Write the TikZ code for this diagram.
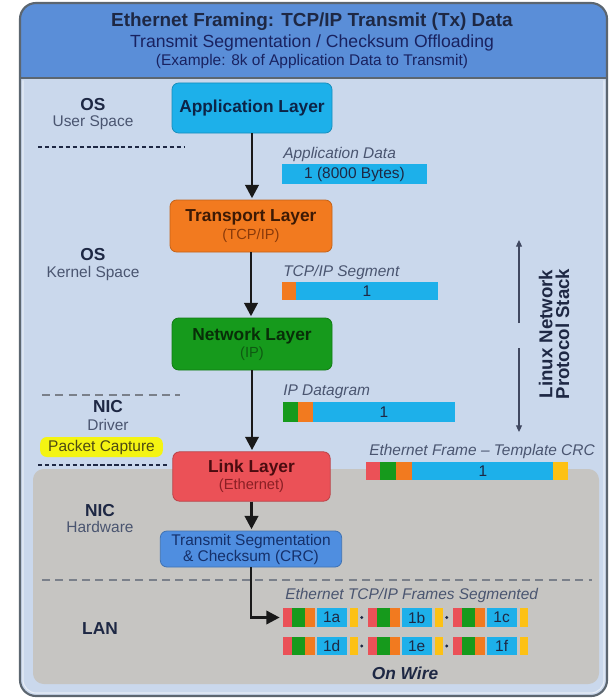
\documentclass[tikz,border=0pt]{standalone}
\usepackage{fontspec}
\setmainfont{Liberation Sans}
\usetikzlibrary{arrows.meta}

\definecolor{hdrblue}{HTML}{5A8ED8}
\definecolor{bodyblue}{HTML}{CAD8EC}
\definecolor{hwgray}{HTML}{C6C5C2}
\definecolor{framegray}{HTML}{5C6670}
\definecolor{navy}{HTML}{1E2844}
\definecolor{slate}{HTML}{4A5570}
\definecolor{appblue}{HTML}{1DB0EA}
\definecolor{tcporange}{HTML}{F27A1F}
\definecolor{ipgreen}{HTML}{169A1C}
\definecolor{ethred}{HTML}{EB5157}
\definecolor{crcyellow}{HTML}{FDC114}
\definecolor{tsoblue}{HTML}{4F8EE0}
\definecolor{capyellow}{HTML}{F4F412}
\definecolor{dashgray}{HTML}{7A808A}
\definecolor{appink}{HTML}{0C2447}
\definecolor{tcpink}{HTML}{3D1A05}
\definecolor{tcpsub}{HTML}{8A3A0A}
\definecolor{ipink}{HTML}{082E08}
\definecolor{ipsub}{HTML}{0F5A12}
\definecolor{ethink}{HTML}{4B0C10}
\definecolor{ethsub}{HTML}{8A1F24}
\definecolor{tsoink}{HTML}{15306A}
\definecolor{capink}{HTML}{4D4A14}

% layer box heading and sub heading
\newcommand\lyhead[2]{\textcolor{#1}{\fontsize{13}{15}\selectfont\bfseries #2}}
\newcommand\lysub[2]{\textcolor{#1}{\fontsize{11}{13}\selectfont #2}}

\begin{document}
\begin{tikzpicture}[x=0.75pt,y=-0.75pt,
  layerbox/.style={rounded corners=5pt, line width=0.6pt, align=center, inner sep=0pt},
  zonehead/.style={font=\fontsize{13}{15}\selectfont\bfseries, text=navy},
  zonesub/.style={font=\fontsize{11.6}{13}\selectfont, text=slate},
  datalbl/.style={font=\fontsize{11.6}{13}\selectfont\itshape, text=slate, anchor=west, inner sep=0pt},
  bartxt/.style={font=\fontsize{11.6}{13}\selectfont, text=navy, inner sep=0pt},
  flow/.style={draw=black!90, line width=2pt, -{Triangle[length=10pt,width=10pt]}, shorten >=1pt},
  stackarrow/.style={draw=navy!85, line width=0.8pt, -{Triangle[length=5pt,width=4.5pt]}},
  sepdots/.style={draw=navy, line width=1.6pt, dash pattern=on 3.2pt off 2pt},
  sepdash/.style={draw=dashgray, line width=1.1pt, dash pattern=on 6pt off 4pt},
  capture/.style={fill=capyellow, rounded corners=5pt, minimum width=92pt, minimum height=15pt,
    inner sep=0pt, text=capink, font=\fontsize{11.6}{13}\selectfont}
]
\useasboundingbox (0,0) rectangle (611,699);

% panel body, header band and hardware area
\fill[bodyblue, rounded corners=12pt] (20,3) rectangle (607,696);
\begin{scope}
  \clip[rounded corners=12pt] (20,3) rectangle (607,696);
  \fill[hdrblue] (20,3) rectangle (607,78);
\end{scope}
\draw[framegray, line width=1pt] (20,78) -- (607,78);
\fill[hwgray, rounded corners=8pt] (33,469) rectangle (599,684);
\draw[white, opacity=0.55, line width=0.8pt, rounded corners=10pt] (23,80.5) -- (23,693) -- (604,693) -- (604,80.5);
\draw[framegray, line width=1.6pt, rounded corners=12pt] (20,3) rectangle (607,696);

% header text
\node[font=\fontsize{14.2}{16}\selectfont\bfseries, text=navy] (title) at (312,22) {Ethernet Framing: TCP/IP Transmit (Tx) Data};
\node[font=\fontsize{13.2}{15}\selectfont, text=navy!85!blue] (subtitle) at (312,43) {Transmit Segmentation / Checksum Offloading};
\node[font=\fontsize{11.6}{13}\selectfont, text=navy!85!blue] (example) at (312,62) {(Example: 8k of Application Data to Transmit)};

% zone labels on the left
\node[zonehead] (os1) at (93,105) {OS};
\node[zonesub] (os1s) at (93,123) {User Space};
\node[zonehead] (os2) at (93,255) {OS};
\node[zonesub] (os2s) at (93,273) {Kernel Space};
\node[zonehead] (nic1) at (108,407) {NIC};
\node[zonesub] (nic1s) at (108,425) {Driver};
\node[capture] (cap) at (101.5,447) {Packet Capture};
\node[zonehead] (nic2) at (100,511) {NIC};
\node[zonesub] (nic2s) at (100,527) {Hardware};
\node[zonehead] (lan) at (100,629) {LAN};

% zone separators
\draw[sepdots] (38,147) -- (185,147);
\draw[sepdash] (42,395) -- (180,395);
\draw[sepdots] (38,465) -- (168,465);
\draw[sepdash] (42,580) -- (592,580);

% protocol layers
\node[layerbox, minimum width=120pt, minimum height=37.5pt, fill=appblue, draw=appblue!80!black] (app) at (252,108)
  {\lyhead{appink}{Application Layer}};
\node[layerbox, minimum width=121.5pt, minimum height=39pt, fill=tcporange, draw=tcporange!80!black] (tcp) at (251,226)
  {\lyhead{tcpink}{Transport Layer}\\[1pt]\lysub{tcpsub}{(TCP/IP)}};
\node[layerbox, minimum width=120pt, minimum height=39pt, fill=ipgreen, draw=ipgreen!80!black] (ip) at (252,344)
  {\lyhead{ipink}{Network Layer}\\[1pt]\lysub{ipsub}{(IP)}};
\node[layerbox, minimum width=118pt, minimum height=37pt, fill=ethred, draw=ethred!80!black] (eth) at (251.5,476.5)
  {\lyhead{ethink}{Link Layer}\\[1pt]\lysub{ethsub}{(Ethernet)}};
\node[layerbox, minimum width=136pt, minimum height=27pt, fill=tsoblue, draw=tsoblue!80!black,
  font=\fontsize{11.6}{12}\selectfont, text=tsoink] (tso) at (251,549)
  {Transmit Segmentation\\\& Checksum (CRC)};

% flow between layers
\draw[flow] (app.south) -- (app.south |- tcp.north);
\draw[flow] (tcp.south) -- (tcp.south |- ip.north);
\draw[flow] (ip.south) -- (ip.south |- eth.north);
\draw[flow] (eth.south) -- (eth.south |- tso.north);
\coordinate (wire) at (281,617.5);
\draw[flow] (tso.south) |- (wire);

% application data
\node[datalbl] (appdl) at (283,155) {Application Data};
\fill[appblue] (282,164) rectangle (427,184);
\node[bartxt] (appd) at (354.5,174) {1 (8000 Bytes)};

% TCP/IP segment
\node[datalbl] (segl) at (283,272) {TCP/IP Segment};
\fill[tcporange] (282,282) rectangle (296,300);
\fill[appblue] (296,282) rectangle (438,300);
\node[bartxt] (seg) at (367,291) {1};

% IP datagram
\node[datalbl] (dgl) at (283,392) {IP Datagram};
\fill[ipgreen] (283,402) rectangle (298,422);
\fill[tcporange] (298,402) rectangle (313,422);
\fill[appblue] (313,402) rectangle (455,422);
\node[bartxt] (dg) at (384,412) {1};

% Ethernet frame template
\node[datalbl] (efl) at (369,451) {Ethernet Frame -- Template CRC};
\fill[ethred] (366,462) rectangle (380,480);
\fill[ipgreen] (380,462) rectangle (396,480);
\fill[tcporange] (396,462) rectangle (412,480);
\fill[appblue] (412,462) rectangle (553,480);
\fill[crcyellow] (553,462) rectangle (568,480);
\node[bartxt] (ef) at (483,471) {1};

% protocol stack extent
\coordinate (stktop) at (519,240);
\coordinate (stkbot) at (519,432);
\draw[stackarrow] (519,323) -- (stktop);
\draw[stackarrow] (519,348) -- (stkbot);
\node[rotate=90, font=\fontsize{14}{12.5}\selectfont\bfseries, text=navy, align=center] (stack) at (554,334)
  {Linux Network\\Protocol Stack};

% segmented frames on the wire
\node[datalbl] (segfl) at (285,595) {Ethernet TCP/IP Frames Segmented};
\foreach \k/\la/\lb in {0/1a/1d, 1/1b/1e, 2/1c/1f} {
  \pgfmathsetmacro\xo{283.3+85*\k}
  \foreach \yt/\yb/\lab in {608/627/\la, 637/655/\lb} {
    \fill[ethred] (\xo,\yt) rectangle (\xo+8.3,\yb);
    \fill[ipgreen] (\xo+8.3,\yt) rectangle (\xo+21.7,\yb);
    \fill[tcporange] (\xo+21.7,\yt) rectangle (\xo+31.7,\yb);
    \fill[appblue] (\xo+33.3,\yt) rectangle (\xo+63.3,\yb);
    \fill[crcyellow] (\xo+66.7,\yt) rectangle (\xo+75,\yb);
    \node[bartxt] (f-\lab) at (\xo+48.3,{(\yt+\yb)/2}) {\lab};
    \ifnum\k<2
      \fill[navy] (\xo+78.5,{(\yt+\yb)/2}) circle (1.2pt);
    \fi
  }
}
\node[font=\fontsize{13}{15}\selectfont\bfseries\itshape, text=navy] (onwire) at (405,673) {On Wire};
\end{tikzpicture}
\end{document}
